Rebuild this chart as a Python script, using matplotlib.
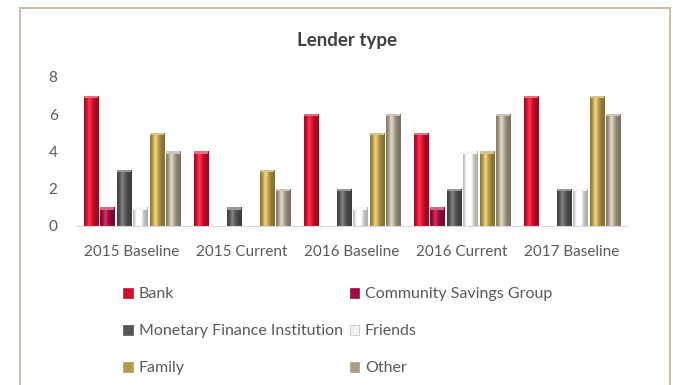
import numpy as np
import matplotlib.pyplot as plt
from matplotlib.colors import to_rgb
from matplotlib.patches import Rectangle

plt.rcParams['font.family'] = ['Lato', 'DejaVu Sans']

categories = ["2015 Baseline", "2015 Current", "2016 Baseline", "2016 Current", "2017 Baseline"]
lenders = ["Bank", "Community Savings Group", "Monetary Finance Institution",
           "Friends", "Family", "Other"]

bank = [7, 4, 6, 5, 7]
savings_group = [1, 0, 0, 1, 0]
mfi = [3, 1, 2, 2, 2]
friends = [1, 0, 1, 4, 2]
family = [5, 3, 5, 4, 7]
other = [4, 2, 6, 6, 6]

series = [bank, savings_group, mfi, friends, family, other]
colors = ["#D0102C", "#9E0D3C", "#555555", "#F2F2F2", "#B59B4C", "#A89E8C"]

text_color = "#595959"


def shaded_bar(ax, x, w, h, color):
    """Draw a bar with a horizontal cylinder-like shading."""
    if h <= 0:
        return
    base = np.array(to_rgb(color))
    t = np.linspace(0, 1, 40)
    # darker edges, highlight a bit left of centre
    shade = 0.72 + 0.45 * np.exp(-((t - 0.4) / 0.28) ** 2)
    rgb = np.clip(base[None, :] * shade[:, None] + 0.12 * np.exp(-((t - 0.35) / 0.12) ** 2)[:, None], 0, 1)
    img = rgb[None, :, :]
    im = ax.imshow(img, extent=(x - w / 2, x + w / 2, 0, h), aspect='auto',
                   interpolation='bilinear', zorder=2)
    clip = Rectangle((x - w / 2, 0), w, h, transform=ax.transData)
    im.set_clip_path(clip)
    # lighter cap on top
    ax.add_patch(Rectangle((x - w / 2, h - 0.12), w, 0.12,
                           color=np.clip(base * 0.6 + 0.4, 0, 1), lw=0, zorder=3))


fig = plt.figure(figsize=(6.73, 3.85), dpi=100)
ax = fig.add_axes([0.1144, 0.413, 0.8172, 0.387])

x = np.arange(len(categories))
pitch = 0.15
width = 0.13
for i, (vals, c) in enumerate(zip(series, colors)):
    offs = (i - (len(series) - 1) / 2) * pitch
    for xi, v in zip(x, vals):
        shaded_bar(ax, xi + offs, width, v, c)

ax.set_xlim(-0.5, len(categories) - 0.5)
ax.set_ylim(0, 8)
ax.set_yticks([0, 2, 4, 6, 8])
ax.set_xticks(x)
ax.set_xticklabels(categories)
ax.tick_params(axis='both', length=0, colors=text_color, labelsize=11)
ax.tick_params(axis='y', pad=14)
ax.tick_params(axis='x', pad=14)
for s in ['top', 'right', 'left']:
    ax.spines[s].set_visible(False)
ax.spines['bottom'].set_color("#D9D9D9")

fig.text(0.516, 0.896, "Lender type", ha='center', va='center',
         fontsize=13.5, fontweight='bold', color="#404040")

# legend, filled row by row
handles = [Rectangle((0, 0), 1, 1, facecolor=c, edgecolor="#BFBFBF" if c == "#F2F2F2" else c, lw=0.5)
           for c in colors]
order = [0, 2, 4, 1, 3, 5]
fig.legend([handles[k] for k in order], [lenders[k] for k in order],
           ncol=2, loc='upper left', bbox_to_anchor=(0.174, 0.270),
           frameon=False, fontsize=11.5, labelcolor=text_color,
           handlelength=0.6, handleheight=0.6, handletextpad=0.35,
           columnspacing=0.44, labelspacing=1.44, borderaxespad=0)

# outer frame
fig.patches.append(Rectangle((20 / 673, -0.1), 650 / 673, 1.1 - 8 / 385,
                             transform=fig.transFigure, fill=False,
                             edgecolor="#C9BDB1", lw=1.5))

fig.savefig("out.png", dpi=100)
